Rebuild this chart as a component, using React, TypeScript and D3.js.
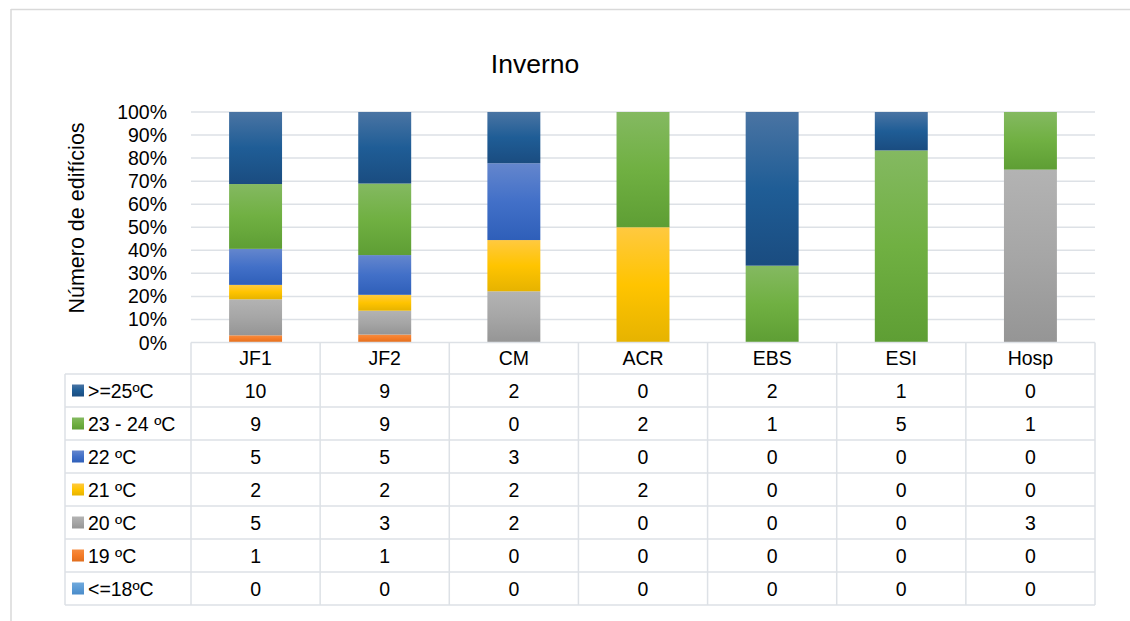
import React from "react";
import * as d3 from "d3";

const categories = ["JF1", "JF2", "CM", "ACR", "EBS", "ESI", "Hosp"];
const seriesKeys = ["s25", "s2324", "s22", "s21", "s20", "s19", "s18"];
const seriesLabels = [">=25ºC", "23 - 24 ºC", "22 ºC", "21 ºC", "20 ºC", "19 ºC", "<=18ºC"];
const s25 = [10, 9, 2, 0, 2, 1, 0];
const s2324 = [9, 9, 0, 2, 1, 5, 1];
const s22 = [5, 5, 3, 0, 0, 0, 0];
const s21 = [2, 2, 2, 2, 0, 0, 0];
const s20 = [5, 3, 2, 0, 0, 0, 3];
const s19 = [1, 1, 0, 0, 0, 0, 0];
const s18 = [0, 0, 0, 0, 0, 0, 0];
const seriesValues = [s25, s2324, s22, s21, s20, s19, s18];
const yTickValues = [0, 0.1, 0.2, 0.3, 0.4, 0.5, 0.6, 0.7, 0.8, 0.9, 1];

const gradients: Record<string, [string, string, string]> = {
  s25: ["#4a74a3", "#1f5d96", "#1a4c80"],
  s2324: ["#84b961", "#70b042", "#5e9e34"],
  s22: ["#6486cd", "#4270c8", "#2f5fb9"],
  s21: ["#ffc940", "#ffc400", "#e6b300"],
  s20: ["#b3b3b3", "#a6a6a6", "#959595"],
  s19: ["#f68c40", "#f47b27", "#e06e1e"],
  s18: ["#70a9dc", "#5b9bd5", "#4a8bc9"],
};

const FONT = "'Liberation Sans', Arial, sans-serif";
const GRID = "#dde1e6";

export default function App() {
  const W = 1130, H = 621;
  const plotL = 191, plotR = 1095, plotT = 112, plotB = 342.5;
  const x = d3.scaleBand<string>().domain(categories).range([plotL, plotR]).padding(0);
  const y = d3.scaleLinear().domain([0, 1]).range([plotB, plotT]);
  const barW = x.bandwidth() * 0.41;

  const table = categories.map((c, i) => {
    const row: any = { cat: c };
    seriesKeys.forEach((k, j) => (row[k] = seriesValues[j][i]));
    return row;
  });
  const stackOrder = [...seriesKeys].reverse();
  const stacked = d3.stack().keys(stackOrder).offset(d3.stackOffsetExpand)(table);
  const fmt = d3.format(".0%");

  const headerTop = plotB;
  const headerBottom = 374;
  const rowH = 33;
  const legendL = 65;
  const tableBottom = headerBottom + rowH * seriesKeys.length;
  const colEdges = [plotL, ...categories.map((c) => (x(c) as number) + x.bandwidth())];

  return (
    <svg width={W} height={H} style={{ position: "absolute", left: 0, top: 0 }} fontFamily={FONT}>
      <defs>
        {seriesKeys.map((k) => (
          <linearGradient key={k} id={"g-" + k} x1="0" y1="0" x2="0" y2="1">
            <stop offset="0" stopColor={gradients[k][0]} />
            <stop offset="0.5" stopColor={gradients[k][1]} />
            <stop offset="1" stopColor={gradients[k][2]} />
          </linearGradient>
        ))}
      </defs>
      <rect x={0} y={0} width={W} height={H} fill="#fff" />
      <line x1={11} x2={W} y1={9.5} y2={9.5} stroke="#d9d9d9" strokeWidth={1.5} />
      <line x1={11} x2={11} y1={9} y2={H} stroke="#d9d9d9" strokeWidth={1.5} />

      <text x={535} y={73} textAnchor="middle" fontSize={26.5} fill="#000">Inverno</text>

      <text transform={`translate(84,218) rotate(-90)`} textAnchor="middle" fontSize={21.5} fill="#000">
        Número de edifícios
      </text>

      {yTickValues.map((t) => (
        <g key={t}>
          {t > 0 && <line x1={plotL} x2={plotR} y1={y(t)} y2={y(t)} stroke={GRID} strokeWidth={1.5} />}
          <text x={167} y={y(t)} dy="0.36em" textAnchor="end" fontSize={19.5} fill="#000">
            {fmt(t)}
          </text>
        </g>
      ))}

      {stacked.map((layer) => (
        <g key={layer.key} fill={`url(#g-${layer.key})`}>
          {layer.map((d, i) => {
            const c = categories[i];
            const cx = (x(c) as number) + x.bandwidth() / 2;
            const h = y(d[0]) - y(d[1]);
            if (h <= 0) return null;
            return <rect key={c} x={cx - barW / 2} y={y(d[1])} width={barW} height={h} />;
          })}
        </g>
      ))}

      {/* table lines */}
      <line x1={plotL} x2={plotR} y1={headerTop} y2={headerTop} stroke={GRID} strokeWidth={1.5} />
      {d3.range(seriesKeys.length + 1).map((r) => (
        <line key={"h" + r} x1={legendL} x2={plotR} y1={headerBottom + r * rowH} y2={headerBottom + r * rowH} stroke={GRID} strokeWidth={1.5} />
      ))}
      <line x1={legendL} x2={legendL} y1={headerBottom} y2={tableBottom} stroke={GRID} strokeWidth={1.5} />
      {colEdges.map((cx, i) => (
        <line key={"v" + i} x1={cx} x2={cx} y1={headerTop} y2={tableBottom} stroke={GRID} strokeWidth={1.5} />
      ))}

      {categories.map((c) => (
        <text key={c} x={(x(c) as number) + x.bandwidth() / 2} y={(headerTop + headerBottom) / 2} dy="0.36em" textAnchor="middle" fontSize={19.5} fill="#000">
          {c}
        </text>
      ))}

      {seriesKeys.map((k, r) => {
        const cy = headerBottom + r * rowH + rowH / 2;
        return (
          <g key={k}>
            <rect x={72} y={cy - 6} width={12} height={12} fill={`url(#g-${k})`} />
            <text x={88} y={cy} dy="0.36em" fontSize={19.5} fill="#000">{seriesLabels[r]}</text>
            {categories.map((c, i) => (
              <text key={c} x={(x(c) as number) + x.bandwidth() / 2} y={cy} dy="0.36em" textAnchor="middle" fontSize={19.5} fill="#000">
                {seriesValues[r][i]}
              </text>
            ))}
          </g>
        );
      })}
    </svg>
  );
}
